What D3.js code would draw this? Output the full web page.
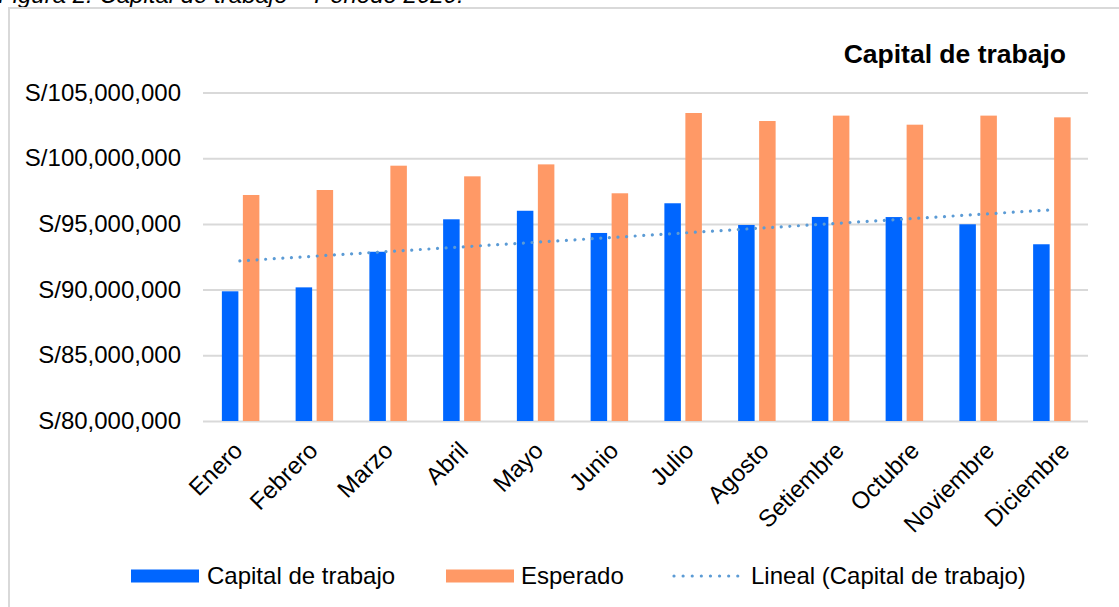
<!DOCTYPE html>
<html>
    <head>
        <meta charset="utf-8">
        <title>Capital de trabajo</title>
        <script src="https://d3js.org/d3.v7.min.js"></script>
        <style>
            body {margin: 0; background: #fff; overflow: hidden;}
            svg {display: block; font-family: "Liberation Sans", Arial, sans-serif;}
        </style>
    </head>
    <body>
        <script>
            // Datos (millones de soles)
            var meses = ["Enero", "Febrero", "Marzo", "Abril", "Mayo", "Junio", "Julio",
                         "Agosto", "Setiembre", "Octubre", "Noviembre", "Diciembre"];
            var capital = [89.87, 90.17, 92.88, 95.35, 96.00, 94.31, 96.57, 94.92, 95.53, 95.52, 94.97, 93.45];
            var esperado = [97.20, 97.58, 99.43, 98.62, 99.53, 97.33, 103.44, 102.83, 103.24, 102.55, 103.24, 103.11];
            var ticksY = [80, 85, 90, 95, 100, 105];
            var series = ["Capital de trabajo", "Esperado"];
            var colores = ["#0066ff", "#ff9966"];

            var W = 1119, H = 607;
            var svg = d3.select("body").append("svg")
                .attr("width", W)
                .attr("height", H);

            // leyenda de la figura, cortada arriba como en el original
            svg.append("text")
                .attr("x", -2)
                .attr("y", 3)
                .attr("font-size", 24)
                .attr("font-style", "italic")
                .text("Figura 2. Capital de trabajo \u2013 Periodo 2020.");

            // borde del area del grafico
            svg.append("rect")
                .attr("x", 9).attr("y", 8)
                .attr("width", 1200).attr("height", 700)
                .attr("fill", "none")
                .attr("stroke", "#d9d9d9")
                .attr("stroke-width", 2);

            svg.append("text")
                .attr("x", 1066)
                .attr("y", 63)
                .attr("text-anchor", "end")
                .attr("font-size", 26.5)
                .attr("font-weight", "bold")
                .text("Capital de trabajo");

            var x = d3.scaleBand()
                .domain(meses)
                .range([203, 1088]);

            var xs = d3.scaleBand()
                .domain(series)
                .range([-18, 19.5])
                .paddingInner(0.214);

            // las etiquetas del original quedan algo mas abiertas que las barras
            var xEtiqueta = d3.scalePoint()
                .domain(meses)
                .range([244, 1071]);

            var y = d3.scaleLinear()
                .domain([80, 105])
                .range([421, 92.5]);

            // lineas de cuadricula
            var yAxis = d3.axisLeft(y)
                .tickValues(ticksY)
                .tickSize(-(1088 - 203))
                .tickPadding(22)
                .tickFormat(function(d) { return "S/" + d3.format(",")(d * 1000000); });

            var gy = svg.append("g")
                .attr("transform", "translate(203,0)")
                .call(yAxis);
            gy.select(".domain").remove();
            gy.selectAll(".tick line")
                .attr("stroke", "#d9d9d9")
                .attr("stroke-width", 2);
            gy.selectAll(".tick text")
                .attr("font-size", 24)
                .attr("fill", "#000")
                .attr("font-family", "Liberation Sans, Arial, sans-serif");

            // barras
            var grupos = svg.selectAll("g.mes")
                .data(meses)
                .enter()
                .append("g")
                .attr("class", "mes")
                .attr("transform", function(d) { return "translate(" + (x(d) + x.bandwidth() / 2) + ",0)"; });

            grupos.selectAll("rect")
                .data(function(d, i) { return [capital[i], esperado[i]]; })
                .enter()
                .append("rect")
                .attr("x", function(d, j) { return xs(series[j]); })
                .attr("width", xs.bandwidth())
                .attr("y", function(d) { return y(d); })
                .attr("height", function(d) { return y(80) - y(d); })
                .attr("fill", function(d, j) { return colores[j]; });

            // linea de tendencia lineal (minimos cuadrados sobre capital)
            var idx = d3.range(1, meses.length + 1);
            var mx = d3.mean(idx), my = d3.mean(capital);
            var pendiente = d3.sum(idx, function(k, i) { return (k - mx) * (capital[i] - my); }) /
                            d3.sum(idx, function(k) { return (k - mx) * (k - mx); });
            var corte = my - pendiente * mx;
            var tendencia = [
                {mes: meses[0], v: corte + pendiente * 1},
                {mes: meses[meses.length - 1], v: corte + pendiente * meses.length}
            ];

            svg.append("path")
                .datum(tendencia)
                .attr("fill", "none")
                .attr("stroke", "#5b9bd5")
                .attr("stroke-width", 3.2)
                .attr("stroke-linecap", "round")
                .attr("stroke-dasharray", "0.01 8.6")
                .attr("d", d3.line()
                    .x(function(d) { return x(d.mes) + x.bandwidth() / 2; })
                    .y(function(d) { return y(d.v); }));

            // etiquetas del eje x
            svg.selectAll("text.mes")
                .data(meses)
                .enter()
                .append("text")
                .attr("class", "mes")
                .attr("font-size", 24)
                .attr("text-anchor", "end")
                .attr("transform", function(d) {
                    return "translate(" + xEtiqueta(d) + ",452) rotate(-45)";
                })
                .text(function(d) { return d; });

            // leyenda
            var leyenda = [
                {nombre: "Capital de trabajo", tipo: "barra", color: colores[0], x: 131, tx: 207},
                {nombre: "Esperado", tipo: "barra", color: colores[1], x: 446, tx: 521},
                {nombre: "Lineal (Capital de trabajo)", tipo: "linea", color: "#5b9bd5", x: 673, tx: 751}
            ];
            var ly = 576;
            leyenda.forEach(function(l) {
                if (l.tipo === "barra") {
                    svg.append("rect")
                        .attr("x", l.x).attr("y", ly - 6.5)
                        .attr("width", 68).attr("height", 13)
                        .attr("fill", l.color);
                } else {
                    svg.append("line")
                        .attr("x1", l.x + 1).attr("x2", l.x + 65)
                        .attr("y1", ly).attr("y2", ly)
                        .attr("stroke", l.color)
                        .attr("stroke-width", 3.2)
                        .attr("stroke-linecap", "round")
                        .attr("stroke-dasharray", "0.01 9.1");
                }
                svg.append("text")
                    .attr("x", l.tx)
                    .attr("y", ly + 8)
                    .attr("font-size", 24)
                    .text(l.nombre);
            });
        </script>
    </body>
</html>
